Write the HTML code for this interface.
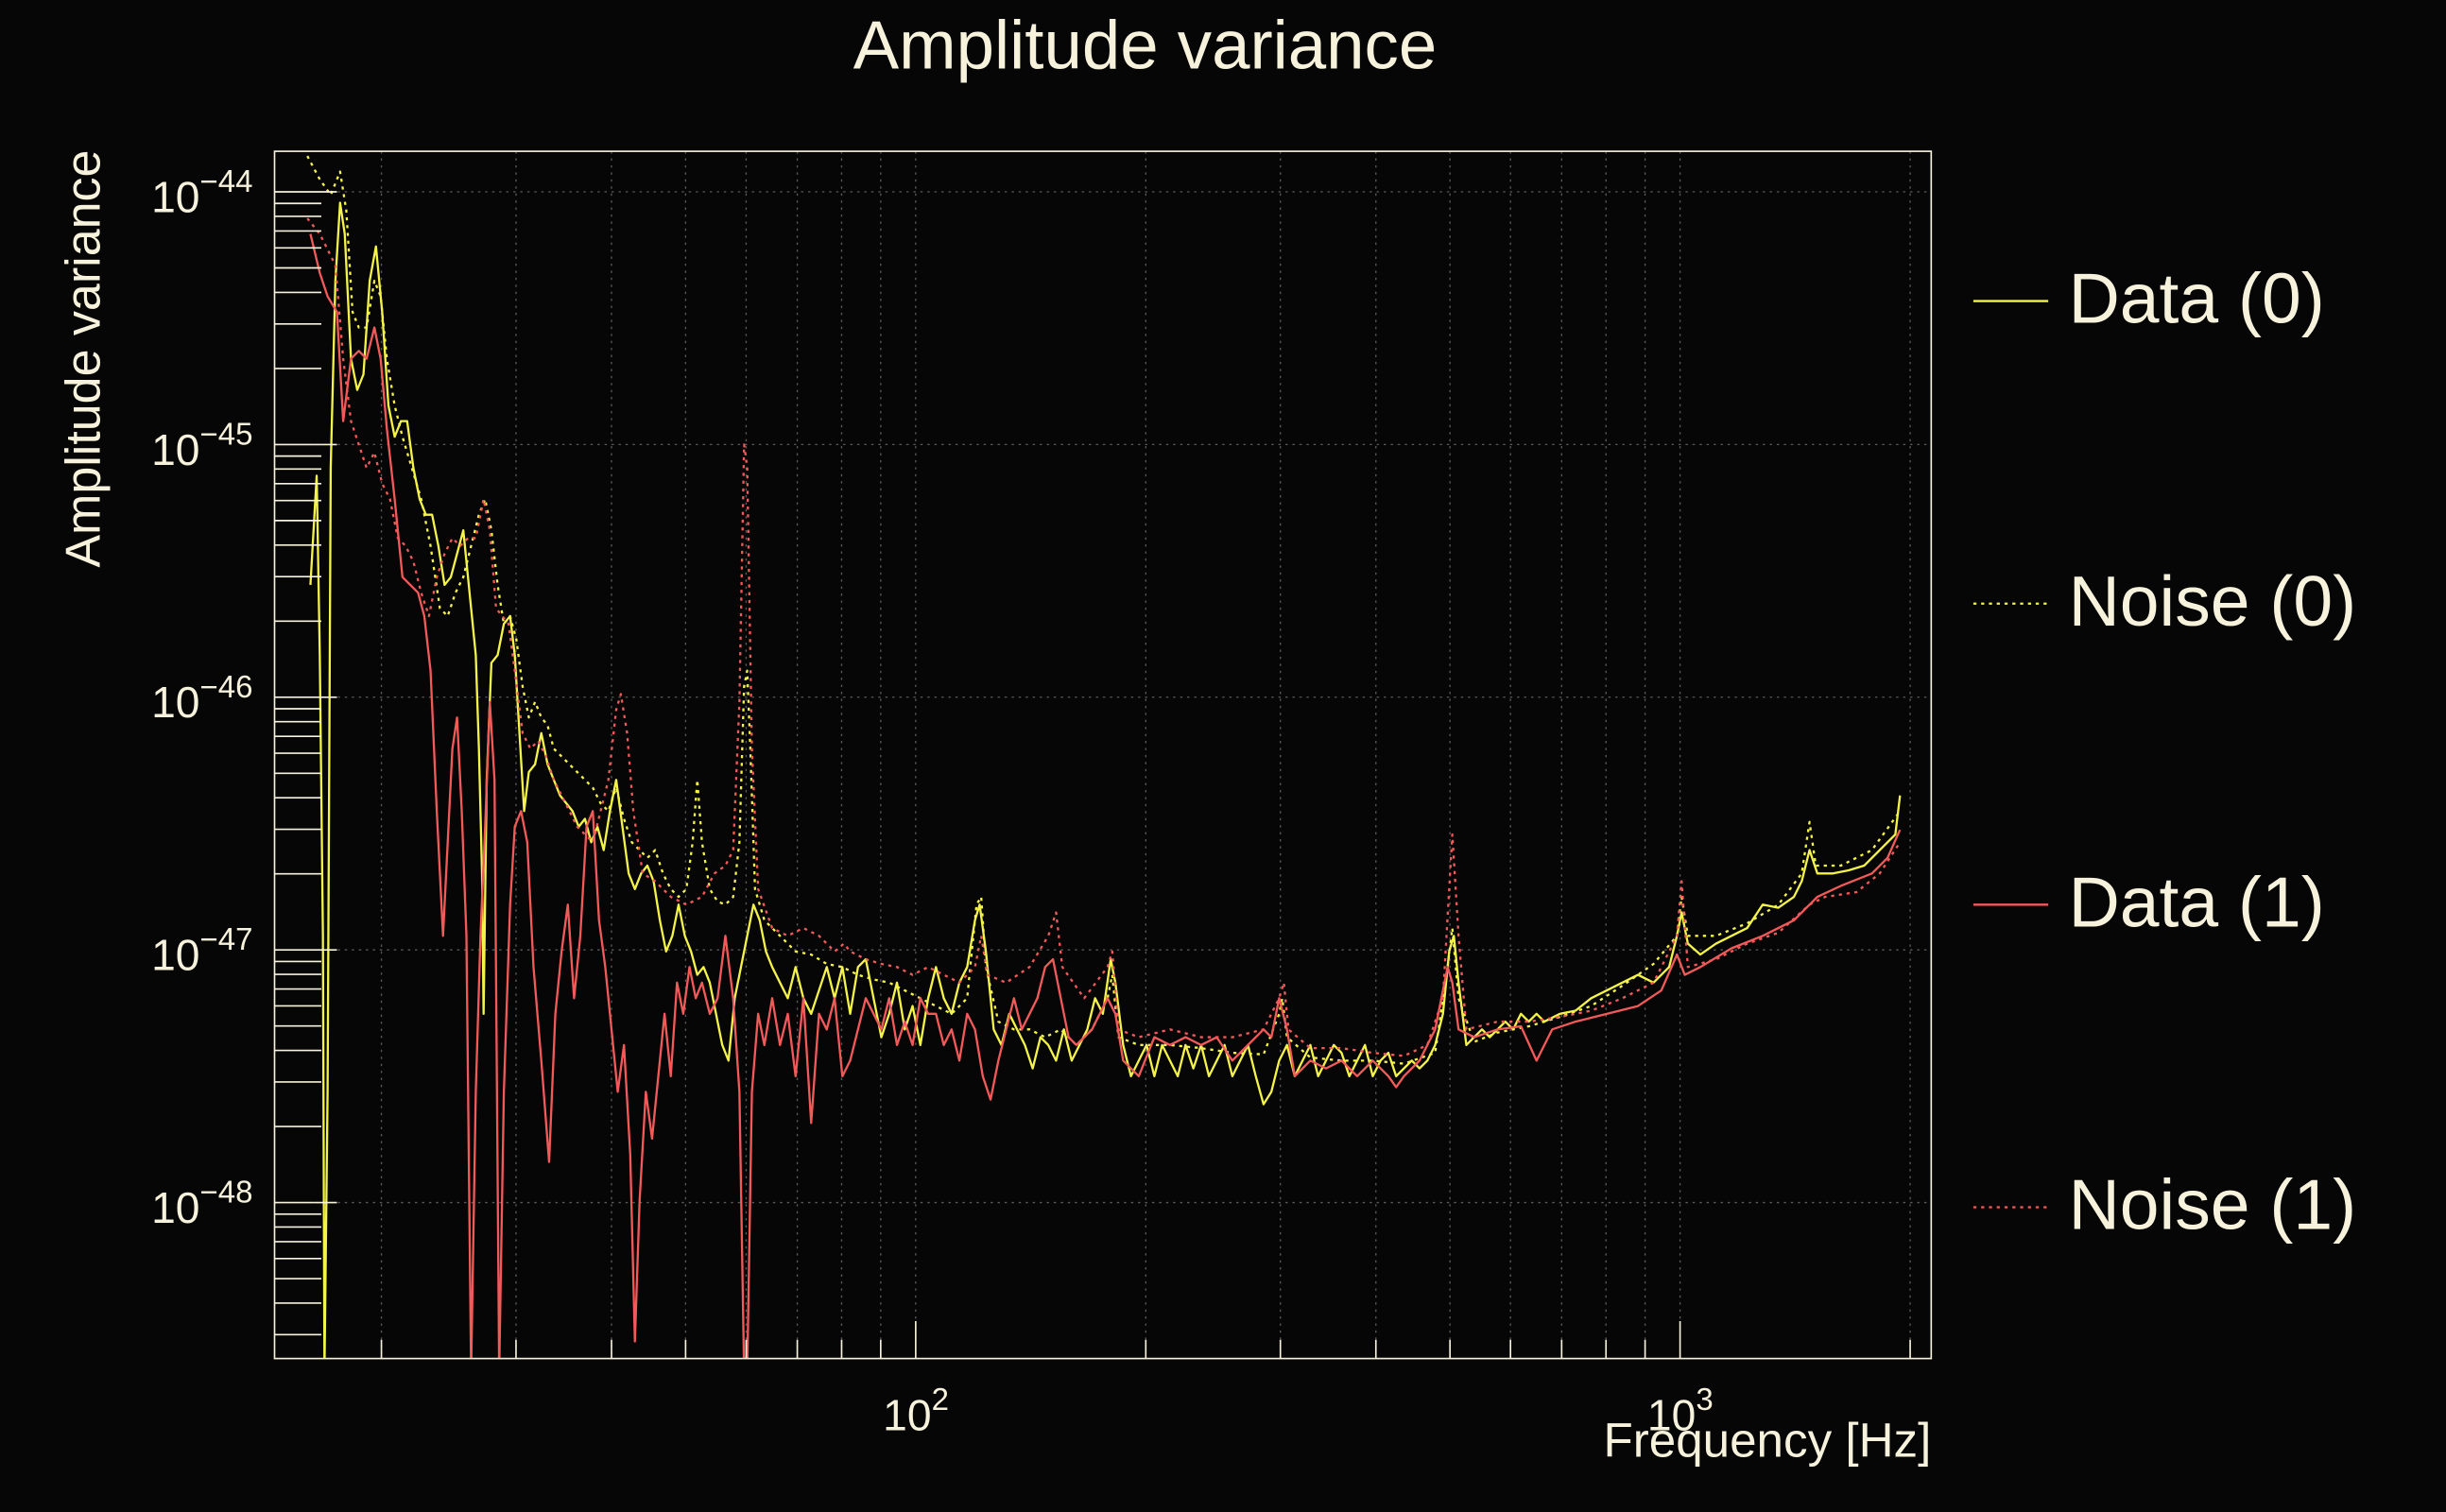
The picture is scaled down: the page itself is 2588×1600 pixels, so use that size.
<!DOCTYPE html>
<html><head><meta charset="utf-8"><style>
html,body{margin:0;padding:0;background:#060606;}
svg{display:block}
text{font-family:"Liberation Sans",sans-serif;fill:#f7f2dc}
</style></head><body>
<svg id="s" width="2588" height="1600" viewBox="0 0 1568 969.4" xmlns="http://www.w3.org/2000/svg">
<rect x="0" y="0" width="1568" height="970" fill="#060606"/>
<defs><clipPath id="c"><rect x="176" y="97" width="1062" height="774"/></clipPath></defs>
<g id="grid"></g>
<g clip-path="url(#c)" fill="none" stroke-width="1.4" stroke-linejoin="round">
<polyline stroke="#f4f34a" points="199,375 203,305 205,420 207,600 208,880 210,700 212,300 215,180 218,130 221,150 225,230 229,250 233,240 237,180 241,158 245,200 249,260 253,280 257,270 261,270 265,300 269,320 273,330 277,330 281,350 285,375 289,370 293,355 297,340 301,380 305,420 307,480 309,560 310,650 312,500 315,425 319,420 323,400 327,395 330,420 333,470 336,520 339,495 343,490 347,470 351,490 355,500 359,510 363,515 367,520 371,530 375,525 379,540 383,530 387,545 391,520 395,500 399,530 403,560 407,570 411,560 415,555 419,565 423,590 427,610 431,600 435,580 439,600 443,610 447,625 451,620 455,630 459,650 463,670 467,680 471,640 475,620 479,600 483,580 487,590 491,610 495,620 500,630 505,640 510,620 515,640 520,650 525,635 530,620 535,640 540,620 545,650 550,620 555,615 560,640 565,665 570,650 575,630 580,660 585,645 590,670 595,640 600,620 605,640 610,650 615,630 620,620 625,590 628,580 632,610 637,660 642,670 647,650 652,660 657,670 662,685 667,665 672,670 677,680 682,660 687,680 692,670 697,660 702,640 707,650 712,615 715,630 720,670 725,690 730,680 735,670 740,690 745,670 750,680 755,690 760,670 765,685 770,670 775,690 780,680 785,670 790,690 795,680 800,670 805,690 810,708 815,700 820,680 825,670 830,690 835,680 840,670 845,690 850,680 855,670 860,675 865,690 870,680 875,670 880,690 885,680 890,675 895,690 900,685 905,680 910,685 915,680 920,670 925,650 929,610 932,600 935,630 940,670 945,665 950,660 955,665 960,660 965,655 970,660 975,650 980,655 985,650 990,655 1000,650 1010,648 1020,640 1030,635 1040,630 1050,625 1060,630 1070,620 1075,600 1078,585 1082,605 1090,612 1100,605 1110,600 1120,595 1130,580 1140,582 1150,575 1155,565 1160,545 1165,560 1175,560 1185,558 1195,555 1205,545 1215,535 1218,510"/>
<polyline stroke="#f4f34a" stroke-dasharray="2,3" points="197,100 205,115 212,125 218,110 222,135 226,200 230,210 235,210 240,180 244,190 248,230 253,260 258,280 264,300 270,320 276,350 282,390 287,395 292,380 297,370 302,350 307,330 311,320 315,340 319,375 323,400 327,395 331,410 335,440 339,460 343,450 347,460 351,465 355,480 360,485 365,490 370,495 375,500 380,505 385,515 390,520 395,505 400,525 405,540 410,545 415,550 420,545 425,560 430,570 435,575 440,570 444,540 447,500 450,540 455,570 460,578 465,580 470,575 474,540 477,440 479,430 481,480 484,570 490,590 500,600 510,610 520,612 530,618 540,620 550,625 560,628 570,630 580,635 590,640 600,645 610,650 620,640 626,580 629,575 632,620 640,655 650,660 660,660 670,665 680,660 690,670 700,660 710,640 713,625 717,665 730,670 750,670 770,672 790,675 810,676 820,650 822,640 825,665 840,678 860,680 880,680 900,682 920,675 928,620 931,595 935,640 945,668 960,662 980,658 1000,652 1020,645 1040,632 1060,618 1075,600 1078,575 1082,600 1100,600 1120,592 1140,580 1155,560 1160,527 1164,555 1180,555 1200,545 1218,520"/>
<polyline stroke="#f25a5a" points="199,150 205,175 210,190 213,195 216,200 220,270 225,230 230,225 235,230 240,210 244,230 248,275 253,320 258,370 263,375 268,380 272,395 276,430 280,520 284,600 287,540 290,480 293,460 296,520 299,600 302,880 305,700 308,600 311,530 314,450 317,500 320,880 323,700 327,580 330,530 334,520 338,540 342,620 347,680 352,745 356,650 360,610 364,580 368,640 372,600 376,530 380,520 384,590 388,620 392,660 396,700 400,670 404,740 407,860 410,770 414,700 418,730 422,690 426,650 430,690 434,630 438,650 442,620 446,640 450,630 455,650 460,640 465,600 470,640 474,700 477,880 479,880 482,700 486,650 490,670 495,640 500,670 505,650 510,690 515,640 520,720 525,650 530,660 535,640 540,690 545,680 550,660 555,640 560,650 565,660 570,640 575,670 580,655 585,670 590,640 595,650 600,650 605,670 610,660 615,680 620,650 625,660 630,690 635,705 640,680 645,660 650,640 655,660 660,650 665,640 670,620 675,615 680,640 685,665 690,670 700,660 710,640 715,650 720,680 730,690 740,665 750,670 760,665 770,670 780,665 790,680 800,670 810,660 815,665 820,640 825,660 830,690 840,680 850,685 860,680 870,690 880,680 890,690 895,697 900,690 910,680 920,660 928,620 931,630 935,660 945,665 960,660 975,658 985,680 995,660 1010,655 1030,650 1050,645 1065,635 1075,612 1080,625 1090,620 1110,608 1130,600 1150,590 1165,575 1180,568 1200,560 1210,550 1218,532"/>
<polyline stroke="#f25a5a" stroke-dasharray="2,3" points="197,140 205,150 210,160 215,170 220,230 225,270 230,285 235,300 240,290 245,310 250,320 255,345 260,350 265,360 270,380 275,395 280,370 285,355 290,345 295,350 300,345 305,345 310,320 314,340 318,390 322,395 326,400 330,430 335,470 340,480 345,475 350,485 355,500 360,510 365,520 370,530 375,535 380,540 385,520 390,500 395,455 398,445 402,470 406,520 412,560 420,565 430,575 440,580 450,575 458,560 465,555 470,545 474,450 477,285 479,300 482,480 486,570 495,595 505,600 515,595 525,600 535,610 541,605 545,610 555,615 565,618 575,620 585,625 595,620 605,625 615,630 625,620 629,600 633,625 645,630 660,620 672,600 677,585 681,620 695,640 710,620 713,610 717,660 730,665 750,660 770,665 790,665 810,660 820,640 823,630 826,660 840,672 860,672 880,675 900,677 915,670 925,640 931,535 935,600 940,660 960,655 980,655 1000,652 1020,648 1040,640 1060,630 1075,600 1078,565 1082,620 1100,615 1120,605 1140,598 1160,580 1170,575 1190,572 1205,560 1218,540"/>
</g>
<rect x="176" y="97" width="1062" height="774" fill="none" stroke="#f7f2dc" stroke-width="1"/>
<g id="ticks" stroke="#f7f2dc" stroke-width="1"></g>
<text x="734" y="44" font-size="44" text-anchor="middle">Amplitude variance</text>
<text transform="translate(64,230) rotate(-90)" font-size="31.5" text-anchor="middle">Amplitude variance</text>
<text x="1238" y="934" font-size="31" text-anchor="end">Frequency [Hz]</text>
<g font-size="28">
<text x="97" y="136">10<tspan dy="-13" font-size="20">−44</tspan></text>
<text x="97" y="298">10<tspan dy="-13" font-size="20">−45</tspan></text>
<text x="97" y="460">10<tspan dy="-13" font-size="20">−46</tspan></text>
<text x="97" y="622">10<tspan dy="-13" font-size="20">−47</tspan></text>
<text x="97" y="784">10<tspan dy="-13" font-size="20">−48</tspan></text>
<text x="566" y="917">10<tspan dy="-13" font-size="20">2</tspan></text>
<text x="1056" y="917">10<tspan dy="-13" font-size="20">3</tspan></text>
</g>
<g stroke-width="1.4">
<line x1="1265" y1="193" x2="1313" y2="193" stroke="#f4f34a"/>
<line x1="1265" y1="387" x2="1313" y2="387" stroke="#f4f34a" stroke-dasharray="2,3"/>
<line x1="1265" y1="580" x2="1313" y2="580" stroke="#f25a5a"/>
<line x1="1265" y1="774" x2="1313" y2="774" stroke="#f25a5a" stroke-dasharray="2,3"/>
</g>
<g font-size="45.5">
<text x="1326" y="207">Data (0)</text>
<text x="1326" y="401">Noise (0)</text>
<text x="1326" y="594">Data (1)</text>
<text x="1326" y="788">Noise (1)</text>
</g>
</svg>
<script>
(function(){
var NS="http://www.w3.org/2000/svg",g=document.getElementById('grid'),t=document.getElementById('ticks');
function L(p,x1,y1,x2,y2,extra){var l=document.createElementNS(NS,'line');l.setAttribute('x1',x1);l.setAttribute('y1',y1);l.setAttribute('x2',x2);l.setAttribute('y2',y2);if(extra){for(var k in extra)l.setAttribute(k,extra[k]);}p.appendChild(l);}
function X(f){return 587+490*(Math.log10(f)-2);}
var gs={stroke:'#5a5a5a','stroke-width':0.8,'stroke-dasharray':'1.5,3'};
var xs=[20,30,40,50,60,70,80,90,100,200,300,400,500,600,700,800,900,1000,2000];
xs.forEach(function(f){var x=X(f);L(g,x,97,x,871,gs);var maj=(f==100||f==1000);L(t,x,871,x,871-(maj?24:12));});
for(var d=0;d<5;d++){var y0=123+162*d;L(g,176,y0,1238,y0,gs);L(t,176,y0,216,y0);
 for(var k=2;k<=9;k++){var y=123+162*(d+1)-162*Math.log10(k);if(y>97&&y<871)L(t,176,y,206,y);}}
[2,3,4,5,6,7,8,9].forEach(function(k){var y=123-162*Math.log10(k);if(y>97)L(t,176,y,206,y);});
})();
</script>
</body></html>
